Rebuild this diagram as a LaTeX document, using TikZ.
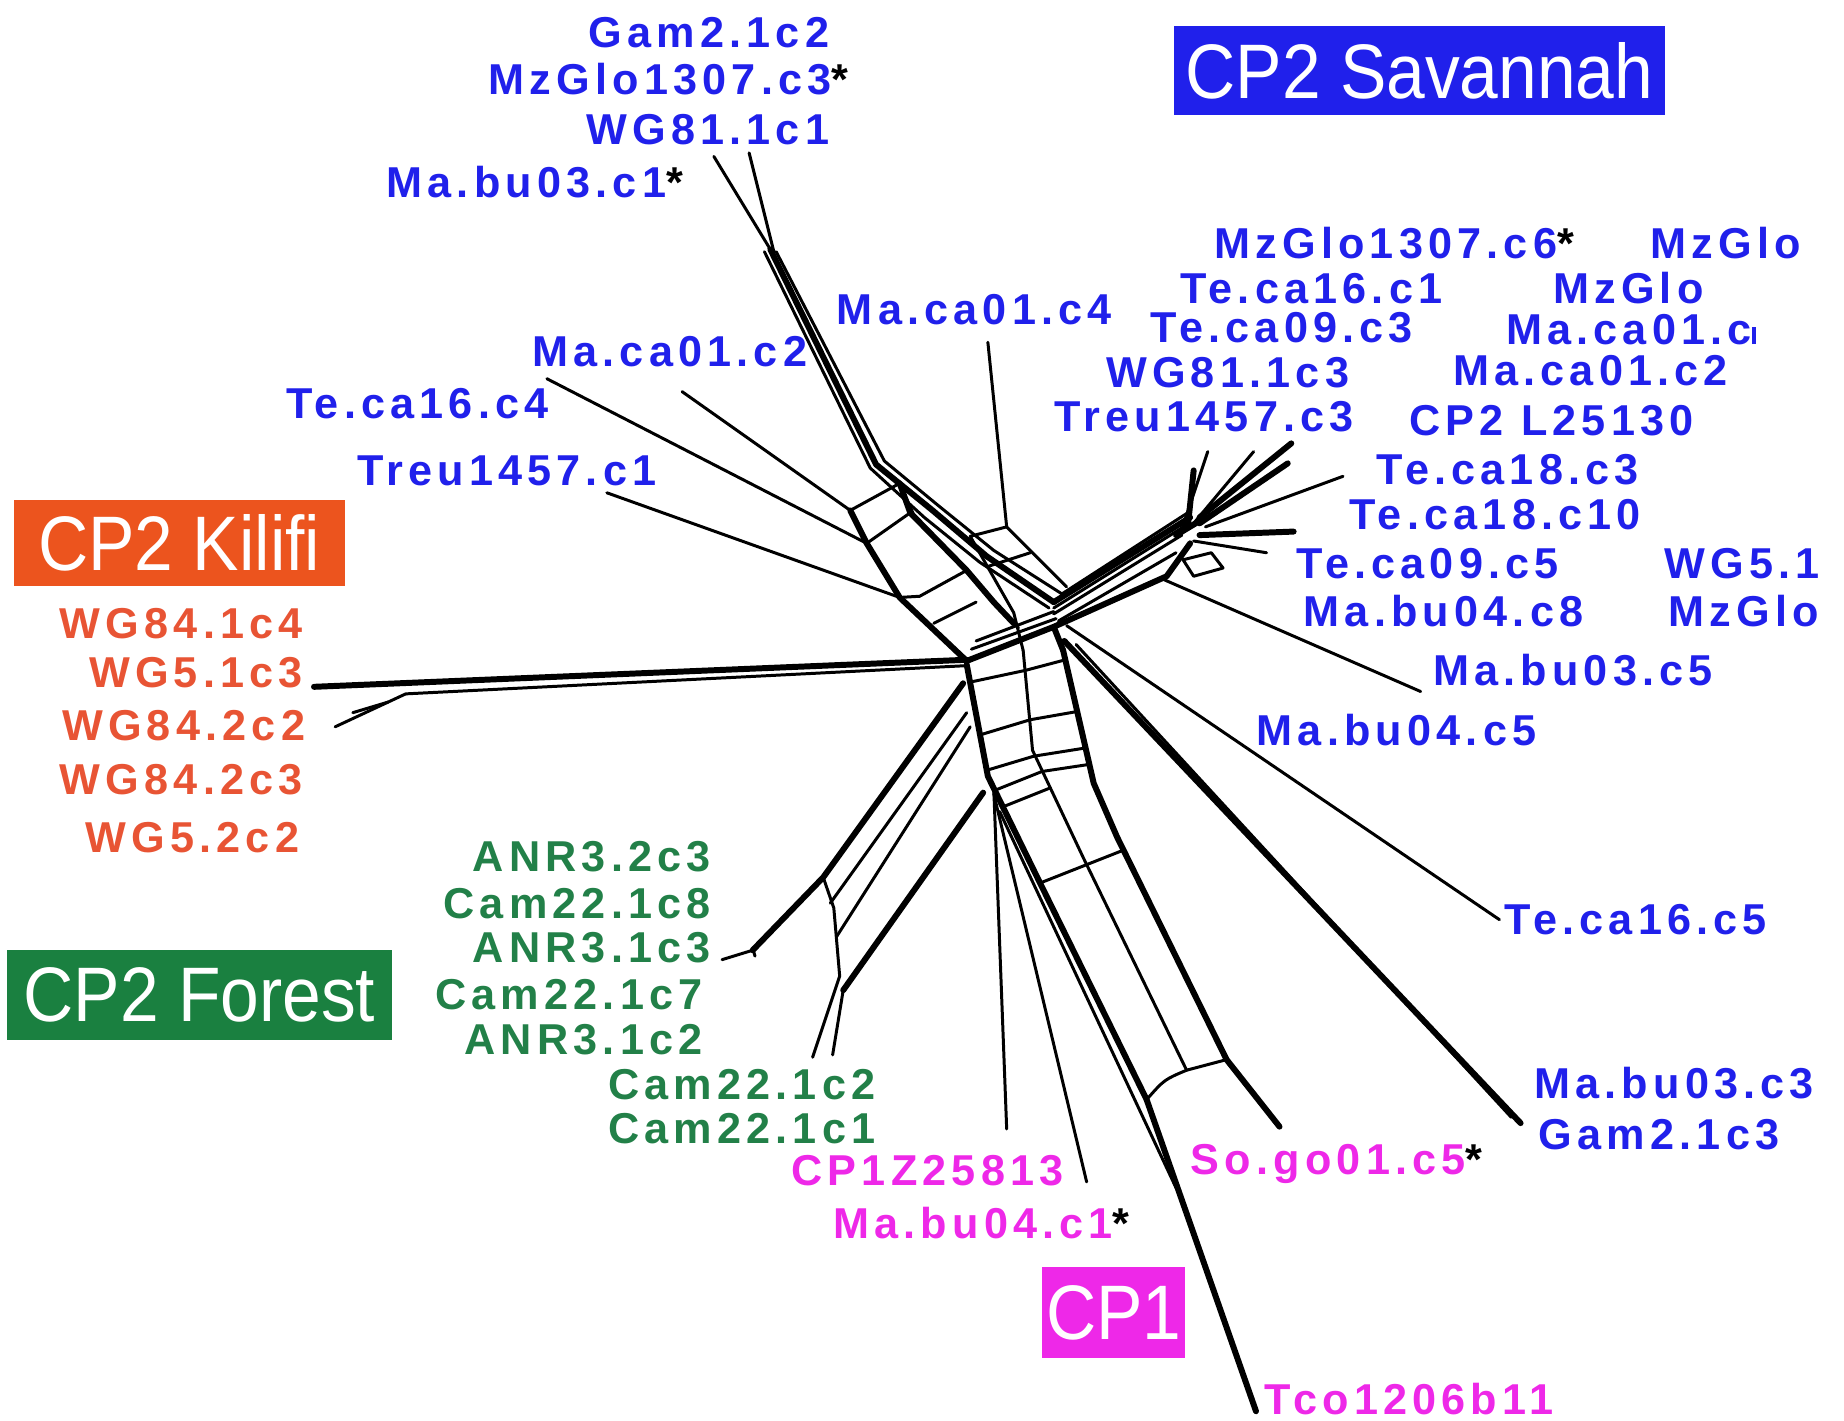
\documentclass[tikz,border=0pt]{standalone}
\usepackage{fontspec}
\newfontfamily\labfont[LetterSpace=12]{Liberation Sans}
\newfontfamily\boxfont[FakeStretch=0.9]{Liberation Sans}
\definecolor{savblue}{RGB}{32,32,235}
\definecolor{kilred}{RGB}{236,84,30}
\definecolor{kiltext}{RGB}{232,84,52}
\definecolor{forgreen}{RGB}{26,128,64}
\definecolor{fortext}{RGB}{34,128,72}
\definecolor{cpmag}{RGB}{238,40,232}
\begin{document}
\begin{tikzpicture}[x=0.01176cm,y=-0.01176cm,line join=round,line cap=round,
    lab/.style={inner sep=0pt,font=\labfont\bfseries\fontsize{12.3}{14}\selectfont},
    sav/.style={lab,text=savblue,anchor=west},
    kil/.style={lab,text=kiltext,anchor=east},
    fore/.style={lab,text=fortext,anchor=east},
    cpone/.style={lab,text=cpmag},
    titlebox/.style={inner sep=0pt,text=white,font=\boxfont\fontsize{22}{26}\selectfont},
    net/.style={line width=0.85pt},
    bund/.style={line width=1.7pt}]
  \useasboundingbox (0,0) rectangle (1568,1208);
  % group boxes
  \node[titlebox,fill=savblue,minimum width=4.916cm,minimum height=0.894cm] (savbox) at (1207,60) {CP2 Savannah};
  \node[titlebox,fill=kilred,minimum width=3.305cm,minimum height=0.858cm] (kilbox) at (152.5,461.5) {CP2 Kilifi};
  \node[titlebox,fill=forgreen,minimum width=3.846cm,minimum height=0.894cm] (forbox) at (169.5,846) {CP2 Forest};
  \node[titlebox,fill=cpmag,minimum width=1.435cm,minimum height=0.917cm] (cpbox) at (947,1116) {CP1};
  % savannah labels
  \node[sav] (gamc2) at (500,28) {Gam2.1c2};
  \node[sav] (mzcthree) at (415,67) {MzGlo1307.c3\textcolor{black}{*}};
  \node[sav] (wgcone) at (498,110) {WG81.1c1};
  \node[sav] (mabucone) at (328,155) {Ma.bu03.c1\textcolor{black}{*}};
  \node[sav] (mzcsix) at (1032,207) {MzGlo1307.c6\textcolor{black}{*}};
  \node[sav] (mzA) at (1403,207) {MzGlo};
  \node[sav] (tecone) at (1003,245) {Te.ca16.c1};
  \node[sav] (mzB) at (1320,245) {MzGlo};
  \node[sav] (macafour) at (711,263) {Ma.ca01.c4};
  \node[sav] (tecthree) at (978,279) {Te.ca09.c3};
  \node[sav] (macacut) at (1280,280) {Ma.ca01.c\rule{1.3pt}{5pt}};
  \node[sav] (macatwoL) at (452,299) {Ma.ca01.c2};
  \node[sav] (wgcthree) at (940,317) {WG81.1c3};
  \node[sav] (macatwoR) at (1235,315) {Ma.ca01.c2};
  \node[sav] (tecfour) at (243,343) {Te.ca16.c4};
  \node[sav] (treuthree) at (896,354) {Treu1457.c3};
  \node[sav] (cptwoL) at (1198,358) {CP2 L25130};
  \node[sav] (treuone) at (303,400) {Treu1457.c1};
  \node[sav] (teeightthree) at (1170,399) {Te.ca18.c3};
  \node[sav] (teeightten) at (1147,438) {Te.ca18.c10};
  \node[sav] (tenine) at (1102,479) {Te.ca09.c5};
  \node[sav] (wgfive) at (1415,479) {WG5.1};
  \node[sav] (mabueight) at (1108,520) {Ma.bu04.c8};
  \node[sav] (mzC) at (1418,520) {MzGlo};
  \node[sav] (mabufive) at (1218,570) {Ma.bu03.c5};
  \node[sav] (mabufourfive) at (1068,621) {Ma.bu04.c5};
  \node[sav] (tecfive) at (1279,782) {Te.ca16.c5};
  \node[sav] (mabuthree) at (1304,921) {Ma.bu03.c3};
  \node[sav] (gamcthree) at (1308,965) {Gam2.1c3};
  % kilifi labels
  \node[kil] (wgeightfour) at (258,530) {WG84.1c4};
  \node[kil] (wgfiveone) at (258,572) {WG5.1c3};
  \node[kil] (wgeighttwo) at (260,617) {WG84.2c2};
  \node[kil] (wgeightthree) at (258,663) {WG84.2c3};
  \node[kil] (wgfivetwo) at (255,712) {WG5.2c2};
  % forest labels
  \node[fore] (anrtwo) at (605,728) {ANR3.2c3};
  \node[fore] (camceight) at (605,768) {Cam22.1c8};
  \node[fore] (anrone) at (605,806) {ANR3.1c3};
  \node[fore] (camcseven) at (598,846) {Cam22.1c7};
  \node[fore] (anronetwo) at (598,884) {ANR3.1c2};
  \node[fore] (camctwo) at (745,922) {Cam22.1c2};
  \node[fore] (camcone) at (745,960) {Cam22.1c1};
  % cp1 labels
  \node[cpone,anchor=east] (cpz) at (905,995) {CP1Z25813};
  \node[cpone,anchor=west] (mabufourone) at (708,1040) {Ma.bu04.c1\textcolor{black}{*}};
  \node[cpone,anchor=west] (sogo) at (1012,990) {So.go01.c5\textcolor{black}{*}};
  \node[cpone,anchor=west] (tco) at (1075,1190) {Tco1206b11};
  % network, upper left arm
  \draw[net] (607,133) -- (655,212);
  \draw[net] (637,130) -- (658,214);
  \draw[bund] (655,212) -- (745,395) -- (793,434) -- (839,473) -- (896,512);
  \draw[net] (660,214) -- (752,392) -- (798,430) -- (845,468) -- (903,505);
  \draw[net] (650,214) -- (740,398) -- (786,440) -- (833,478) -- (892,517);
  \draw[net] (465,322) -- (737,462);
  \draw[net] (580,333) -- (723,434);
  \draw[net] (516,419) -- (765,508);
  \draw[bund] (723,434) -- (737,462) -- (765,508) -- (822,562);
  \draw[bund] (765,411) -- (774,436) -- (822,485) -- (845,512) -- (862,530);
  \draw[net] (769,420) -- (778,440) -- (826,489) -- (849,516) -- (866,534);
  \draw[net] (723,434) -- (765,411);
  \draw[net] (737,462) -- (774,436);
  \draw[net] (765,508) -- (782,507) -- (822,485);
  \draw[net] (794,530) -- (830,512);
  \draw[net] (840,291) -- (856,448) -- (873,465) -- (907,499);
  \draw[net] (856,448) -- (825,456) -- (862,521) -- (870,553);
  \draw[net] (839,482) -- (876,470);
  % right arm
  \draw[bund] (896,512) -- (1012,440);
  \draw[net] (903,505) -- (1010,436);
  \draw[net] (896,522) -- (1005,455);
  \draw[net] (896,517) -- (1008,447);
  \draw[bund] (896,533) -- (992,490) -- (1012,462);
  \draw[net] (900,528) -- (1000,470);
  \draw[net] (1005,450) -- (1027,384);
  \draw[bund] (1010,448) -- (1015,400);
  \draw[net] (1015,445) -- (1066,384);
  \draw[bund] (1020,440) -- (1098,377);
  \draw[bund] (1020,445) -- (1095,394);
  \draw[net] (1025,448) -- (1142,405);
  \draw[bund] (1020,455) -- (1100,452);
  \draw[net] (1015,460) -- (1077,470);
  \draw[bund] (1000,455) -- (1025,440);
  \draw[net] (1006,476) -- (1030,470) -- (1040,483) -- (1015,490) -- cycle;
  \draw[net] (990,493) -- (1208,588);
  % left arm
  \draw[bund] (267,584) -- (822,561);
  \draw[net] (345,590) -- (822,566);
  \draw[net] (285,618) -- (345,590);
  \draw[net] (300,606) -- (330,597);
  % hub
  \draw[bund] (822,562) -- (896,533) -- (904,553);
  \draw[net] (830,545) -- (896,520);
  \draw[net] (826,552) -- (898,526);
  % lower arm
  \draw[bund] (822,565) -- (840,660) -- (882,746) -- (975,935) -- (1068,1200);
  \draw[net] (870,553) -- (878,638) -- (921,729) -- (1009,910);
  \draw[bund] (904,553) -- (930,666) -- (950,712) -- (1043,901) -- (1088,958);
  \draw[net] (825,580) -- (872,570) -- (906,561);
  \draw[net] (833,625) -- (876,612) -- (916,605);
  \draw[net] (839,655) -- (879,643) -- (923,636);
  \draw[net] (846,672) -- (886,656) -- (926,650);
  \draw[net] (853,686) -- (893,670);
  \draw[net] (884,751) -- (955,723);
  \draw[net] (975,935) .. controls (990,918) .. (1009,910) -- (1043,901);
  \draw[net] (845,670) -- (856,960);
  \draw[net] (845,675) -- (924,1005);
  \draw[net] (850,690) -- (1000,1010);
  \draw[net] (907,532) -- (1275,782);
  \draw[bund] (905,545) -- (1293,955);
  \draw[net] (915,548) -- (1285,950);
  % forest arm
  \draw[bund] (819,581) -- (700,746) -- (640,808);
  \draw[net] (640,808) -- (614,816);
  \draw[net] (640,806) -- (642,813);
  \draw[net] (822,606) -- (706,768);
  \draw[net] (825,618) -- (711,797);
  \draw[bund] (836,674) -- (717,842);
  \draw[net] (700,746) -- (709,772) -- (714,830) -- (691,899);
  \draw[net] (717,842) -- (708,897);
\end{tikzpicture}
\end{document}
